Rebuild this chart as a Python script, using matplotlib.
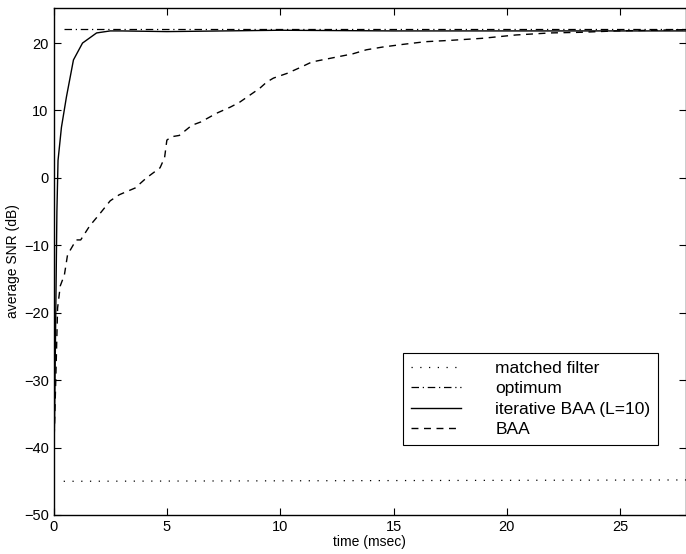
import matplotlib
matplotlib.use("Agg")
import matplotlib.pyplot as plt

plt.rcParams['font.family'] = ['Liberation Sans', 'DejaVu Sans']

# ==== datos ====
t_flat = [0.45, 28.0]
snr_matched = [-45.0, -44.8]
snr_optimum = [22.1, 22.1]

t_iter = [0.0, 0.05, 0.1, 0.15, 0.2, 0.35, 0.57, 0.88, 1.28, 1.9, 2.5, 3.0,
          5.0, 10.0, 15.0, 20.0, 25.0, 28.0]
snr_iter = [-45.0, -35.0, -20.0, -5.0, 2.6, 7.5, 12.0, 17.5, 20.0, 21.5, 21.8, 21.8,
            21.7, 21.9, 21.8, 21.8, 21.8, 21.8]

t_baa = [0.0, 0.1, 0.18, 0.3, 0.48, 0.62, 1.0, 1.2, 1.6, 2.0, 2.5, 2.9, 3.6, 4.1,
         4.7, 4.9, 5.0, 5.2, 5.55, 6.1, 6.5, 7.2, 7.8, 8.2, 8.8, 9.1, 9.4, 9.7,
         10.3, 10.9, 11.4, 12.3, 13.2, 13.8, 14.5, 15.4, 16.4, 17.5, 18.9, 20.4,
         21.9, 23.3, 24.8, 26.5, 28.0]
snr_baa = [-42.0, -30.0, -19.3, -16.0, -14.4, -11.4, -9.2, -9.2, -7.1, -5.5, -3.4,
           -2.5, -1.5, 0.0, 1.5, 3.0, 5.6, 6.1, 6.3, 7.8, 8.3, 9.6, 10.5, 11.2, 12.6,
           13.3, 14.2, 14.8, 15.5, 16.4, 17.2, 17.8, 18.4, 19.0, 19.4, 19.8, 20.2,
           20.4, 20.7, 21.2, 21.5, 21.6, 21.8, 21.9, 22.0]

xticks = [0, 5, 10, 15, 20, 25]
yticks = [-50, -40, -30, -20, -10, 0, 10, 20]

# ==== grafica ====
fig = plt.figure(figsize=(6.86, 5.54), dpi=100)
ax = fig.add_axes([53.5 / 686, 39 / 554, 632.5 / 686, 507 / 554])

ax.plot(t_flat, snr_matched, color='k', lw=0.9, dashes=(1, 6), label='matched filter')
ax.plot(t_flat, snr_optimum, color='k', lw=0.9, dashes=(6, 3, 1, 3), label='optimum')
ax.plot(t_iter, snr_iter, color='k', lw=1.0, label='iterative BAA (L=10)')
ax.plot(t_baa, snr_baa, color='k', lw=1.0, dashes=(5, 4), label='BAA')

ax.set_xlim(0, 27.9)
ax.set_ylim(-50, 25.2)
ax.set_xticks(xticks)
ax.set_yticks(yticks)
ax.tick_params(direction='in', top=True, right=True, labelsize=10.5, length=5, width=0.8)
for s in ax.spines.values():
    s.set_linewidth(1.0)

ax.set_xlabel('time (msec)', fontsize=10, labelpad=1)
ax.set_ylabel('average SNR (dB)', fontsize=10, labelpad=3)

leg = ax.legend(loc='lower right', bbox_to_anchor=(0.956, 0.138), fontsize=12.5,
                handlelength=2.9, handletextpad=1.95, fancybox=False, framealpha=1,
                edgecolor='k', borderpad=0.45, labelspacing=0.3, borderaxespad=0)
leg.get_frame().set_linewidth(0.8)

fig.savefig('out.png', dpi=100)
